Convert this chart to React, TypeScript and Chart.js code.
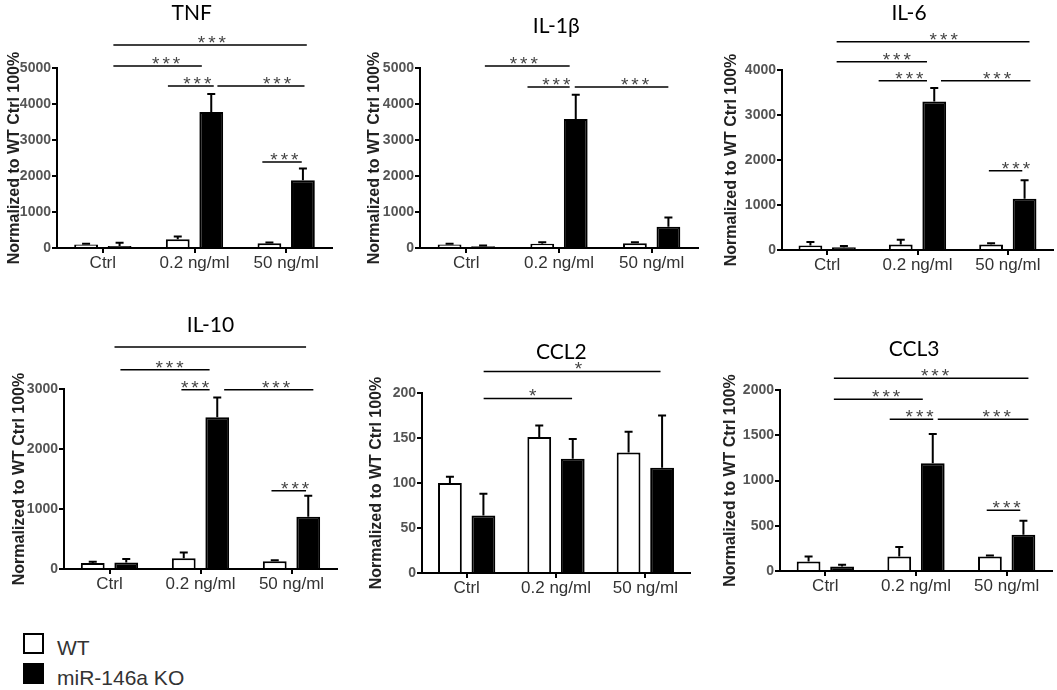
import { useEffect, useRef } from 'react';
import { Chart, registerables } from 'chart.js';

Chart.register(...registerables);
Chart.defaults.font.family = '"Liberation Sans", Arial, sans-serif';

const categories = ['Ctrl', '0.2 ng/ml', '50 ng/ml'];
const yTitle = 'Normalized to WT Ctrl 100%';

// values: mean and upper error (SEM) per group
const tnfWT = [100, 240, 130];
const tnfWTErr = [20, 80, 20];
const tnfKO = [55, 3780, 1880];
const tnfKOErr = [90, 500, 330];
const tnfTicks = [0, 1000, 2000, 3000, 4000, 5000];

const il1bWT = [100, 120, 130];
const il1bWTErr = [20, 40, 30];
const il1bKO = [50, 3580, 590];
const il1bKOErr = [20, 680, 260];
const il1bTicks = [0, 1000, 2000, 3000, 4000, 5000];

const il6WT = [100, 120, 120];
const il6WTErr = [80, 110, 30];
const il6KO = [60, 3300, 1140];
const il6KOErr = [30, 300, 410];
const il6Ticks = [0, 1000, 2000, 3000, 4000];

const il10WT = [100, 180, 130];
const il10WTErr = [20, 95, 15];
const il10KO = [110, 2530, 870];
const il10KOErr = [55, 330, 350];
const il10Ticks = [0, 1000, 2000, 3000];

const ccl2WT = [100, 151, 134];
const ccl2WTErr = [7, 13, 23];
const ccl2KO = [64, 127, 117];
const ccl2KOErr = [24, 22, 58];
const ccl2Ticks = [0, 50, 100, 150, 200];

const ccl3WT = [105, 160, 160];
const ccl3WTErr = [55, 105, 10];
const ccl3KO = [50, 1190, 400];
const ccl3KOErr = [20, 325, 155];
const ccl3Ticks = [0, 500, 1000, 1500, 2000];

// significance bars: from/to/at in category units, y in data units
type Bracket = { from: number; to: number; y: number; label: string; at: number };

const tnfBrackets: Bracket[] = [
  { from: 0.115, to: 2.225, y: 5640, label: '***', at: 1.19 },
  { from: 0.115, to: 1.08, y: 5055, label: '***', at: 0.69 },
  { from: 0.71, to: 1.21, y: 4500, label: '***', at: 1.03 },
  { from: 1.25, to: 2.2, y: 4500, label: '***', at: 1.9 },
  { from: 1.74, to: 2.17, y: 2390, label: '***', at: 1.98 },
];
const il1bBrackets: Bracket[] = [
  { from: 0.2, to: 1.115, y: 5055, label: '***', at: 0.62 },
  { from: 0.66, to: 1.115, y: 4470, label: '***', at: 0.97 },
  { from: 1.17, to: 2.18, y: 4470, label: '***', at: 1.82 },
];
const il6Brackets: Bracket[] = [
  { from: 0.105, to: 2.24, y: 4630, label: '***', at: 1.29 },
  { from: 0.105, to: 1.105, y: 4185, label: '***', at: 0.77 },
  { from: 0.57, to: 1.105, y: 3763, label: '***', at: 0.91 },
  { from: 1.26, to: 2.25, y: 3763, label: '***', at: 1.88 },
  { from: 1.79, to: 2.16, y: 1763, label: '***', at: 2.09 },
];
const il10Brackets: Bracket[] = [
  { from: 0.055, to: 2.16, y: 3700, label: '', at: 1.1 },
  { from: 0.12, to: 1.1, y: 3322, label: '***', at: 0.66 },
  { from: 0.79, to: 1.1, y: 2988, label: '***', at: 0.94 },
  { from: 1.26, to: 2.24, y: 2988, label: '***', at: 1.83 },
  { from: 1.78, to: 2.16, y: 1305, label: '***', at: 2.04 },
];
const ccl2Brackets: Bracket[] = [
  { from: 0.19, to: 2.17, y: 224, label: '*', at: 1.25 },
  { from: 0.19, to: 1.18, y: 194, label: '*', at: 0.74 },
];
const ccl3Brackets: Bracket[] = [
  { from: 0.094, to: 2.24, y: 2129, label: '***', at: 1.21 },
  { from: 0.094, to: 1.075, y: 1897, label: '***', at: 0.67 },
  { from: 0.71, to: 1.19, y: 1676, label: '***', at: 1.04 },
  { from: 1.24, to: 2.24, y: 1676, label: '***', at: 1.89 },
  { from: 1.78, to: 2.15, y: 672, label: '***', at: 2.0 },
];

const panelMarks = {
  id: 'panelMarks',
  afterDatasetsDraw(chart: any) {
    const { ctx } = chart;
    const yScale = chart.scales.y;
    ctx.save();
    ctx.strokeStyle = '#000';
    ctx.lineWidth = 2;
    chart.data.datasets.forEach((ds: any, i: number) => {
      const meta = chart.getDatasetMeta(i);
      meta.data.forEach((bar: any, j: number) => {
        const top = yScale.getPixelForValue(ds.data[j] + ds.errors[j]);
        ctx.beginPath();
        ctx.moveTo(bar.x, bar.y);
        ctx.lineTo(bar.x, top);
        ctx.moveTo(bar.x - 4, top);
        ctx.lineTo(bar.x + 4, top);
        ctx.stroke();
      });
    });
    ctx.restore();
  },
  afterDraw(chart: any, _args: any, opts: any) {
    const { ctx, chartArea } = chart;
    const xScale = chart.scales.x;
    const yScale = chart.scales.y;
    const c0 = xScale.getPixelForValue(0);
    const cw = xScale.getPixelForValue(1) - c0;
    const px = (pos: number) => c0 + pos * cw;
    ctx.save();
    ctx.strokeStyle = '#000';
    ctx.lineWidth = 1.5;
    ctx.fillStyle = '#444';
    ctx.font = '19px "Liberation Sans", Arial, sans-serif';
    ctx.letterSpacing = '3px';
    ctx.textAlign = 'center';
    ctx.textBaseline = 'alphabetic';
    (opts.brackets || []).forEach((b: Bracket) => {
      const yy = yScale.getPixelForValue(b.y);
      ctx.beginPath();
      ctx.moveTo(px(b.from), yy);
      ctx.lineTo(px(b.to), yy);
      ctx.stroke();
      if (b.label) ctx.fillText(b.label, px(b.at) + 1.5, yy + 4);
    });
    ctx.letterSpacing = '0px';
    ctx.fillStyle = '#000';
    ctx.font = '21px Lato, "Open Sans", sans-serif';
    ctx.textBaseline = 'middle';
    ctx.fillText(opts.title, px(opts.titleAt), chartArea.top - opts.titleRaise);
    ctx.restore();
  },
};

type Box = { left: number; top: number; width: number; height: number };
type Area = { left: number; top: number; right: number; bottom: number };

interface PanelProps {
  title: string;
  titleAt: number;
  titleRaise: number;
  wt: number[];
  wtErr: number[];
  ko: number[];
  koErr: number[];
  ticks: number[];
  brackets: Bracket[];
  box: Box;
  area: Area;
}

function Panel({ title, titleAt, titleRaise, wt, wtErr, ko, koErr, ticks, brackets, box, area }: PanelProps) {
  const canvasRef = useRef<HTMLCanvasElement>(null);

  useEffect(() => {
    if (!canvasRef.current) return;
    const yW = area.left - box.left;
    const xH = box.top + box.height - area.bottom;
    const catW = (area.right - area.left) / categories.length;
    const chart = new Chart(canvasRef.current, {
      type: 'bar',
      data: {
        labels: categories,
        datasets: [
          {
            label: 'WT',
            data: wt,
            errors: wtErr,
            backgroundColor: '#fff',
            borderColor: '#000',
            borderWidth: 2,
          } as any,
          {
            label: 'miR-146a KO',
            data: ko,
            errors: koErr,
            backgroundColor: '#000',
            borderColor: '#000',
            borderWidth: 2,
          } as any,
        ],
      },
      options: {
        responsive: false,
        animation: false,
        devicePixelRatio: 1,
        datasets: {
          bar: { categoryPercentage: 67 / catW, barPercentage: 0.71 },
        },
        layout: {
          padding: { left: 0, top: area.top - box.top, right: box.left + box.width - area.right, bottom: 0 },
        },
        scales: {
          x: {
            offset: true,
            grid: {
              drawOnChartArea: false,
              drawTicks: true,
              tickLength: 5,
              offset: false,
              color: '#000',
              lineWidth: 2,
            },
            border: { color: '#000', width: 2 },
            ticks: { color: '#333', font: { size: 17 }, padding: 0, maxRotation: 0, autoSkip: false },
            afterFit: (s: any) => {
              s.height = xH;
            },
          },
          y: {
            min: 0,
            max: ticks[ticks.length - 1],
            afterBuildTicks: (s: any) => {
              s.ticks = ticks.map((v) => ({ value: v }));
            },
            grid: { drawOnChartArea: false, tickLength: 5, color: '#000', lineWidth: 2 },
            border: { color: '#000', width: 2 },
            ticks: {
              color: '#555',
              font: { size: 14, weight: 'bold' },
              padding: 1,
              callback: (v: any) => String(v),
            },
            title: {
              display: true,
              text: yTitle,
              color: '#222',
              font: { size: 16, weight: 'bold', lineHeight: 1.2 },
              padding: { top: 5, bottom: 0 },
            },
            afterFit: (s: any) => {
              s.width = yW;
            },
          },
        },
        plugins: {
          legend: { display: false },
          tooltip: { enabled: false },
          panelMarks: { brackets, title, titleAt, titleRaise },
        } as any,
      },
      plugins: [panelMarks],
    });

    return () => {
      chart.destroy();
    };
  }, []);

  return (
    <canvas
      ref={canvasRef}
      width={box.width}
      height={box.height}
      style={{ position: 'absolute', left: box.left, top: box.top, width: box.width, height: box.height }}
    />
  );
}

export default function App() {
  const legendText = {
    position: 'absolute' as const,
    left: 57,
    font: '21px "Liberation Sans", Arial, sans-serif',
    lineHeight: '24px',
    color: '#333',
    whiteSpace: 'nowrap' as const,
  };
  const legendBox = {
    position: 'absolute' as const,
    left: 23,
    width: 17,
    height: 17,
    border: '2.5px solid #000',
  };
  return (
    <div style={{ position: 'absolute', left: 0, top: 0, width: 1057, height: 690, overflow: 'hidden', background: '#fff' }}>
      <Panel
        title="TNF" titleAt={0.97} titleRaise={55}
        wt={tnfWT} wtErr={tnfWTErr} ko={tnfKO} koErr={tnfKOErr} ticks={tnfTicks} brackets={tnfBrackets}
        box={{ left: 0, top: 0, width: 345, height: 300 }}
        area={{ left: 57, top: 68, right: 332, bottom: 248 }}
      />
      <Panel
        title="IL-1β" titleAt={0.97} titleRaise={42}
        wt={il1bWT} wtErr={il1bWTErr} ko={il1bKO} koErr={il1bKOErr} ticks={il1bTicks} brackets={il1bBrackets}
        box={{ left: 360, top: 0, width: 345, height: 300 }}
        area={{ left: 420, top: 68, right: 698, bottom: 248 }}
      />
      <Panel
        title="IL-6" titleAt={0.906} titleRaise={57}
        wt={il6WT} wtErr={il6WTErr} ko={il6KO} koErr={il6KOErr} ticks={il6Ticks} brackets={il6Brackets}
        box={{ left: 717, top: 0, width: 340, height: 300 }}
        area={{ left: 782, top: 70, right: 1053, bottom: 250 }}
      />
      <Panel
        title="IL-10" titleAt={1.11} titleRaise={64}
        wt={il10WT} wtErr={il10WTErr} ko={il10KO} koErr={il10KOErr} ticks={il10Ticks} brackets={il10Brackets}
        box={{ left: 5, top: 300, width: 345, height: 310 }}
        area={{ left: 64, top: 389, right: 337, bottom: 569 }}
      />
      <Panel
        title="CCL2" titleAt={1.06} titleRaise={41}
        wt={ccl2WT} wtErr={ccl2WTErr} ko={ccl2KO} koErr={ccl2KOErr} ticks={ccl2Ticks} brackets={ccl2Brackets}
        box={{ left: 362, top: 300, width: 340, height: 310 }}
        area={{ left: 422, top: 393, right: 690, bottom: 573 }}
      />
      <Panel
        title="CCL3" titleAt={0.98} titleRaise={41}
        wt={ccl3WT} wtErr={ccl3WTErr} ko={ccl3KO} koErr={ccl3KOErr} ticks={ccl3Ticks} brackets={ccl3Brackets}
        box={{ left: 716, top: 300, width: 341, height: 310 }}
        area={{ left: 780, top: 390, right: 1052, bottom: 571 }}
      />
      <div style={{ ...legendBox, top: 633, background: '#fff' }} />
      <div style={{ ...legendText, top: 636 }}>WT</div>
      <div style={{ ...legendBox, top: 663, background: '#000' }} />
      <div style={{ ...legendText, top: 666 }}>miR-146a KO</div>
    </div>
  );
}
